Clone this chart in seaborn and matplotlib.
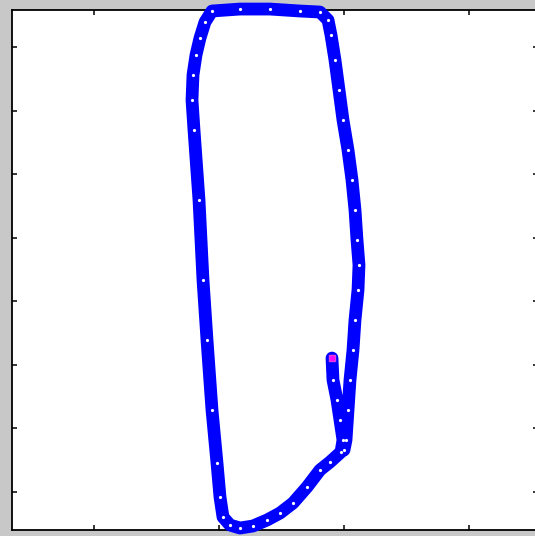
import matplotlib
matplotlib.use("Agg")
import matplotlib.pyplot as plt
import seaborn as sns
import pandas as pd

# Trajectory samples (x, y) in axis units, in the order they were recorded
path_x = [2.902, 2.910, 2.942, 2.966, 2.990, 2.974, 2.886, 2.806, 2.702, 2.590,
          2.486, 2.382, 2.270, 2.166, 2.086, 2.030, 2.006, 1.982, 1.942, 1.902,
          1.870, 1.838, 1.798, 1.782, 1.790, 1.814, 1.846, 1.886, 1.942, 2.166,
          2.406, 2.646, 2.806, 2.870, 2.894, 2.926, 2.958, 2.990, 3.030, 3.062,
          3.086, 3.102, 3.118, 3.110, 3.086, 3.070, 3.046, 3.030, 3.014, 2.998]
path_y = [3.102, 2.756, 2.441, 2.126, 1.811, 1.622, 1.465, 1.339, 1.071, 0.819,
          0.661, 0.551, 0.457, 0.425, 0.472, 0.598, 0.913, 1.449, 2.283, 3.386,
          4.331, 5.591, 6.693, 7.165, 7.559, 7.874, 8.142, 8.394, 8.567, 8.598,
          8.598, 8.567, 8.551, 8.425, 8.189, 7.795, 7.323, 6.850, 6.378, 5.906,
          5.433, 4.961, 4.567, 4.173, 3.701, 3.228, 2.756, 2.283, 1.811, 1.654]

x_ticks = [1, 2, 3, 4]
y_ticks = [1, 2, 3, 4, 5, 6, 7, 8]

df = pd.DataFrame({"x": path_x, "y": path_y, "step": range(len(path_x))})

sns.set_style("white")
fig = plt.figure(figsize=(5.35, 5.36), dpi=100, facecolor="#c8c8c8")
ax = fig.add_axes([12 / 535, 6 / 536, 526 / 535, 520 / 536])
ax.set_facecolor("white")

sns.lineplot(data=df, x="x", y="y", sort=False, estimator=None, ax=ax,
             color="#0000ff", linewidth=9.2, clip_on=False, zorder=5,
             solid_joinstyle="round", solid_capstyle="round")
# small sample dots along the track
ax.plot(df["x"], df["y"], linestyle="none", marker="o", markersize=1.3,
        color="white", clip_on=False, zorder=6)
# starting point
ax.plot(df["x"].iloc[:1], df["y"].iloc[:1], linestyle="none", marker="s",
        markersize=4.5, color="#ff00ff", markeredgecolor="#e040e0",
        clip_on=False, zorder=7)

ax.set_xlim(0.342, 4.55)
ax.set_ylim(0.394, 8.583)
ax.set_xticks(x_ticks)
ax.set_yticks(y_ticks)
ax.set_xticklabels([])
ax.set_yticklabels([])
ax.set_xlabel("")
ax.set_ylabel("")
ax.tick_params(direction="in", length=3.8, width=1.1, color="black",
               top=True, right=True, bottom=True, left=True)
for s in ax.spines.values():
    s.set_visible(True)
    s.set_color("black")
    s.set_linewidth(1.3)
    s.set_zorder(3)

fig.savefig("out.png", dpi=100, facecolor=fig.get_facecolor())
